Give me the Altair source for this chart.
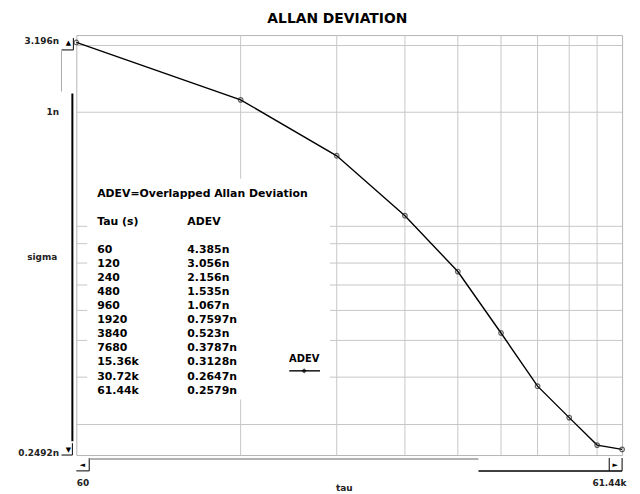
import altair as alt
import pandas as pd

# ---- data ----
tau = [60, 120, 240, 480, 960, 1920, 3840, 7680, 15360, 30720, 61440]
tau_labels = ["60", "120", "240", "480", "960", "1920", "3840", "7680",
              "15.36k", "30.72k", "61.44k"]
adev_n = [4.385, 3.056, 2.156, 1.535, 1.067, 0.7597, 0.523, 0.3787,
          0.3128, 0.2647, 0.2579]
adev_labels = ["4.385n", "3.056n", "2.156n", "1.535n", "1.067n", "0.7597n",
               "0.523n", "0.3787n", "0.3128n", "0.2647n", "0.2579n"]
y_grid = [3, 2, 1, 0.9, 0.8, 0.7, 0.6, 0.5, 0.4, 0.3]
x_grid = [2, 3, 4, 5, 6, 7, 8, 9]          # doubling index of tau
y_domain = [0.2492, 3.196]
x_domain = [1, 10]
y_label_values = [0.2492, 2, 3.196]
y_label_text = ["0.2492n", "1n", "3.196n"]
x_label_text = ["60", "61.44k"]

W, H = 551, 424
FONT = "DejaVu Sans"
GRID = "#c6c6c6"

xs = alt.Scale(type="log", domain=x_domain, nice=False, zero=False)
ys = alt.Scale(type="log", domain=y_domain, nice=False, zero=False)

df = pd.DataFrame({"tau": tau, "adev": adev_n})
base = (alt.Chart(df)
        .transform_calculate(j="log(datum.tau/60)/LN2")
        .transform_filter("datum.j >= 0.999"))

y_expr = " : ".join(
    f"abs(datum.value - {v}) < 0.001 ? '{t}'" for v, t in zip(y_label_values, y_label_text)
) + " : ''"
x_expr = f"datum.value < 2 ? '{x_label_text[0]}' : '{x_label_text[1]}'"

x_axis = alt.Axis(values=x_domain, labelExpr=x_expr, grid=False, ticks=False,
                  domain=False, labelFlush=True, labelPadding=24,
                  labelOffset={"condition": {"test": "datum.value > 2", "value": 4},
                               "value": 0},
                  labelFont=FONT, labelFontSize=9, labelFontWeight="bold",
                  labelColor="#222", title="tau", titleFont=FONT,
                  titleFontSize=9, titleFontWeight="bold", titleColor="#222",
                  titleX=270, titleY=33, titleAlign="center",
                  titleBaseline="middle")
y_axis = alt.Axis(values=y_label_values, labelExpr=y_expr, grid=False,
                  ticks=False, domain=False, labelFlush=False,
                  labelBaseline="middle",
                  labelOffset={"condition": [
                      {"test": "datum.value > 3", "value": 6},
                      {"test": "datum.value < 1", "value": -3}],
                      "value": -1},
                  labelPadding=18, labelFont=FONT,
                  labelFontSize=9, labelFontWeight="bold", labelColor="#222",
                  title="sigma", titleAngle=0, titleX=-35, titleY=224,
                  titleAlign="center", titleBaseline="middle",
                  titleFont=FONT, titleFontSize=9, titleFontWeight="bold",
                  titleColor="#222")

X = lambda f: alt.X(f, scale=xs, axis=x_axis)
Y = lambda f: alt.Y(f, scale=ys, axis=y_axis)

one = pd.DataFrame({"k": [0]})

grid_h = alt.Chart(pd.DataFrame({"v": y_grid})).mark_rule(
    color=GRID, strokeWidth=1).encode(y=Y("v:Q"))
grid_v = alt.Chart(pd.DataFrame({"v": x_grid})).mark_rule(
    color=GRID, strokeWidth=1).encode(x=X("v:Q"))

box = alt.Chart(one).mark_rect(color="white").encode(
    x=alt.value(11), x2=alt.value(256), y=alt.value(145), y2=alt.value(368))

line = base.mark_line(color="black", strokeWidth=1.4).encode(
    x=X("j:Q"), y=Y("adev:Q"))
pts = base.mark_point(shape="circle", filled=False, size=22, color="#222",
                      strokeWidth=1.2).encode(x=X("j:Q"), y=Y("adev:Q"))


def txt(text, x, y, size=11, align="left", baseline="middle", **kw):
    return alt.Chart(one).mark_text(
        text=text, font=FONT, fontSize=size, fontWeight="bold",
        color="black", align=align, baseline=baseline, **kw
    ).encode(x=alt.value(x), y=alt.value(y))


def seg(x1, y1, x2, y2, color="black", w=1.0):
    return alt.Chart(one).mark_rule(color=color, strokeWidth=w).encode(
        x=alt.value(x1), y=alt.value(y1), x2=alt.value(x2), y2=alt.value(y2))


texts = [
    txt("ADEV=Overlapped Allan Deviation", 21, 160),
    txt("Tau (s)", 21, 189),
    txt("ADEV", 112, 189),
    txt("\n".join(tau_labels), 21, 211, baseline="top", lineBreak="\n",
        lineHeight=14.2),
    txt("\n".join(adev_labels), 112, 211, baseline="top", lineBreak="\n",
        lineHeight=14.2),
    txt("ADEV", 230, 327, size=10, align="center"),
]
legend_line = seg(215, 339, 246, 339, w=1.4)
legend_pt = alt.Chart(one).mark_point(shape="diamond", filled=True, size=28,
                                      color="black").encode(
    x=alt.value(230), y=alt.value(339))

deco = [
    seg(-15, 16, -15, 57, color="#aaaaaa"),
    seg(-15, 15, -3, 15),
    seg(-3, 3, -3, 15),
    seg(-4, 59, -4, 410, w=2),
    seg(-4, 412, -4, 424),
    seg(-15, 424, -4, 424),
    seg(0, 440, 13, 440),
    seg(13, 427, 13, 440),
    seg(13, 428, 406, 428, color="#999999", w=1.5),
    seg(406, 440, 551, 440, w=1.5),
    seg(538, 427, 538, 440),
    seg(551, 427, 551, 440),
    txt("▲", -8, 8, size=7, align="center"),
    txt("▼", -8, 419, size=7, align="center"),
    txt("◄", 6, 434, size=7, align="center"),
    txt("►", 544, 434, size=7, align="center"),
]

chart = alt.layer(
    grid_h, grid_v, box, line, pts, *texts, legend_line, legend_pt, *deco
).properties(
    width=W, height=H,
    autosize=alt.AutoSizeParams(type="none"),
    padding={"left": 69, "top": 25, "right": 10, "bottom": 37},
    background="white",
    title=alt.TitleParams("ALLAN DEVIATION", font=FONT, fontSize=14,
                          fontWeight="bold", color="black", anchor="middle",
                          frame="group", dx=-12, offset=9),
).configure_view(stroke="#b4b4b4", strokeWidth=1)

chart.save("out.html", embed_options={"renderer": "svg", "actions": False})
